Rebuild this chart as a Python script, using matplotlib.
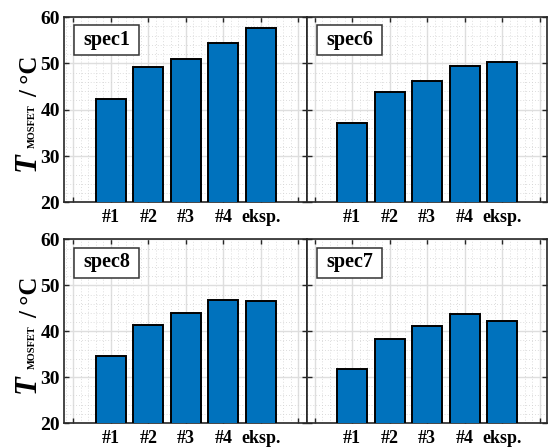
import matplotlib
matplotlib.use('Agg')
import matplotlib.pyplot as plt
from matplotlib.patches import Rectangle
from matplotlib.ticker import MultipleLocator, FixedLocator

plt.rcParams['font.family'] = ['Liberation Serif', 'DejaVu Serif']
plt.rcParams['font.weight'] = 'bold'

# data
categories = ['#1', '#2', '#3', '#4', 'eksp.']
spec1 = [42.4, 49.3, 50.9, 54.5, 57.6]
spec6 = [37.2, 43.9, 46.2, 49.4, 50.4]
spec8 = [34.7, 41.4, 43.9, 46.9, 46.7]
spec7 = [31.7, 38.3, 41.2, 43.8, 42.2]
panel_names = ['spec1', 'spec6', 'spec8', 'spec7']
panel_values = [spec1, spec6, spec8, spec7]
y_ticks = [20, 30, 40, 50, 60]

W, H = 548, 448
fig = plt.figure(figsize=(W / 100, H / 100), dpi=100)

# axes boxes in pixels: left, top, right, bottom
boxes = [(64, 17, 307, 202.5), (307, 17, 547, 202.5),
         (64, 239.5, 307, 423), (307, 239.5, 547, 423)]
xlims = [(-0.25, 6.23), (-0.2, 6.2), (-0.25, 6.23), (-0.2, 6.2)]

bar_color = '#0072BD'
spine_color = '#262626'

for i, (name, vals) in enumerate(zip(panel_names, panel_values)):
    l, t, r, b = boxes[i]
    ax = fig.add_axes([l / W, 1 - b / H, (r - l) / W, (b - t) / H])
    x = list(range(1, len(categories) + 1))
    ax.bar(x, vals, width=0.8, color=bar_color, edgecolor='black', linewidth=1.4, zorder=3)

    ax.set_xlim(*xlims[i])
    ax.set_ylim(20, 60)
    ax.xaxis.set_major_locator(FixedLocator(range(0, 7)))
    ax.set_xticklabels([''] + categories + [''])
    ax.xaxis.set_minor_locator(MultipleLocator(0.2))
    ax.set_yticks(y_ticks)
    ax.yaxis.set_minor_locator(MultipleLocator(2))
    if i % 2 == 1:
        ax.set_yticklabels([])

    ax.set_axisbelow(True)
    ax.grid(True, which='major', color='#dedede', linewidth=1.0)
    ax.grid(True, which='minor', color='#d2d2d2', linewidth=0.6, linestyle=(0, (1, 2.5)))

    ax.tick_params(axis='both', which='major', direction='in', top=True, right=True,
                   length=3.5, width=1, color=spine_color)
    ax.tick_params(axis='both', which='minor', length=0)
    ax.tick_params(axis='x', which='major', labelsize=13, pad=5)
    ax.tick_params(axis='y', which='major', labelsize=14, pad=3)
    for s in ax.spines.values():
        s.set_color(spine_color)
        s.set_linewidth(1.2)

    # name box in upper left corner
    bw, bh = 65, 30
    bx, by = 10, 8
    aw, ah = r - l, b - t
    ax.add_patch(Rectangle((bx / aw, 1 - (by + bh) / ah), bw / aw, bh / ah,
                           transform=ax.transAxes, facecolor='white',
                           edgecolor='#333333', linewidth=1.1, zorder=5))
    ax.text((bx + bw / 2) / aw, 1 - (by + bh / 2) / ah, name, transform=ax.transAxes,
            ha='center', va='center', fontsize=14.5, fontweight='bold', zorder=6)

# y labels: T (bold italic), small MOSFET subscript, then " / °C"
for cy in [(17 + 202.5) / 2, (239.5 + 423) / 2]:
    kw = dict(rotation=90, rotation_mode='anchor', ha='left', va='baseline', fontweight='bold')
    fig.text(35 / W, 1 - (cy + 61.5) / H, 'T', fontsize=22, fontstyle='italic', **kw)
    fig.text(34.5 / W, 1 - (cy + 38) / H, 'MOSFET', fontsize=7.5, **kw)
    fig.text(37 / W, 1 - (cy - 13) / H, '/ °C', fontsize=18, **kw)

fig.savefig('out.png', dpi=100)
